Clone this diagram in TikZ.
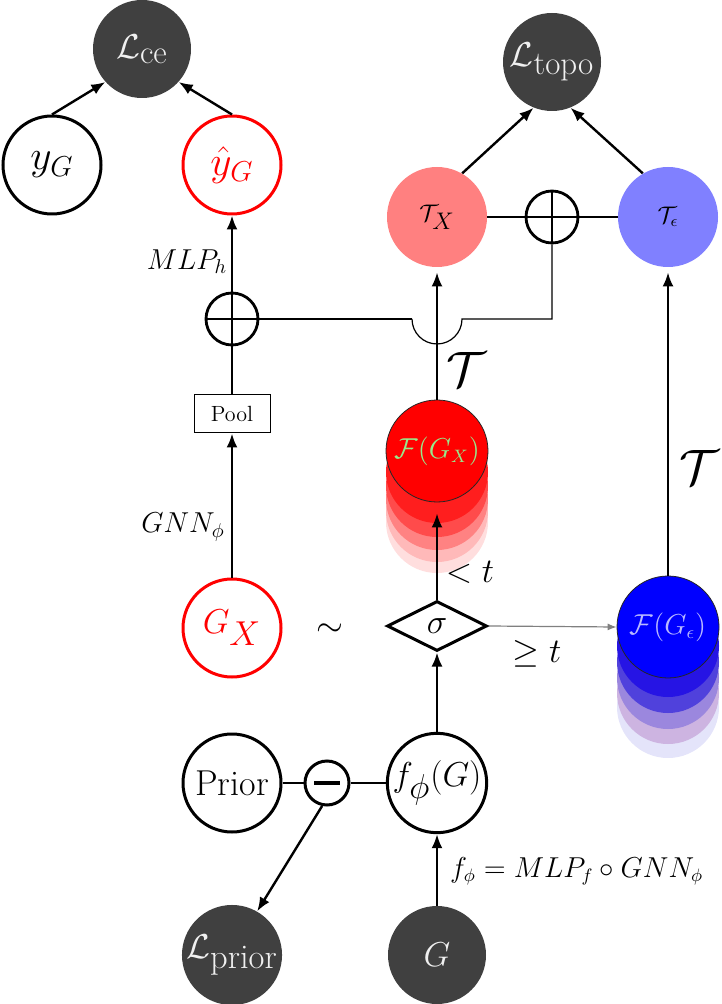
\documentclass[tikz,border=0pt]{standalone}
\usepackage{amsmath}
\usetikzlibrary{arrows.meta,shapes.geometric}
\definecolor{dark}{RGB}{64,64,64}
\definecolor{txc}{RGB}{255,128,128}
\definecolor{tec}{RGB}{128,128,255}
\definecolor{lgreen}{RGB}{150,235,140}
\definecolor{lblue}{RGB}{185,185,255}
\definecolor{ra}{RGB}{255,30,30}
\definecolor{rb}{RGB}{255,75,75}
\definecolor{rc}{RGB}{255,130,130}
\definecolor{rd}{RGB}{255,185,185}
\definecolor{re}{RGB}{255,222,222}
\definecolor{ba}{RGB}{38,20,228}
\definecolor{bb}{RGB}{80,65,220}
\definecolor{bc}{RGB}{155,135,222}
\definecolor{bd}{RGB}{205,180,225}
\definecolor{be}{RGB}{228,228,250}
\begin{document}
\begin{tikzpicture}[x=0.5pt,y=-0.5pt,
  darknode/.style={circle, fill=dark, text=white!94!black, minimum size=49pt, inner sep=0pt},
  ring/.style={circle, draw, line width=1.5pt, minimum size=49pt, inner sep=0pt},
  redring/.style={ring, draw=red, text=red},
  arr/.style={line width=1.2pt, -{Latex[length=7pt,width=5.5pt]}},
  ln/.style={line width=1.2pt},
  oplus/.style={circle, draw, line width=1.4pt, minimum size=26pt, inner sep=0pt,
    path picture={\draw[line width=1.4pt] (path picture bounding box.north) -- (path picture bounding box.south)
      (path picture bounding box.west) -- (path picture bounding box.east);}},
  minusnode/.style={circle, draw, line width=1.5pt, minimum size=22pt, inner sep=0pt,
    path picture={\draw[line width=1.9pt] ([xshift=-6.5pt]path picture bounding box.center) -- ([xshift=6.5pt]path picture bounding box.center);}},
  fillc/.style={circle, minimum size=50pt, inner sep=0pt},
  stackc/.style={circle, minimum size=51pt, inner sep=0pt, draw=black!85, line width=0.4pt}
]
\useasboundingbox (0,0) rectangle (721,1004);

% top left
\node[darknode, font=\fontsize{16.5}{18}\selectfont] (Lce) at (142,49) {$\mathcal{L}_{\mbox{ce}}$};
\node[ring, font=\huge] (yG) at (52,165) {$y_G$};
\node[redring, font=\huge] (yhat) at (232,165) {$\hat{y}_G$};
\draw[arr] (yG.north) -- (Lce.222);
\draw[arr] (yhat.north) -- (Lce.318);

% top right
\node[darknode, font=\fontsize{16.5}{18}\selectfont] (Ltopo) at (552,62) {$\mathcal{L}_{\mbox{topo}}$};
\node[fillc, fill=txc, font=\large] (TX) at (437,217) {$\mathcal{T}_{\mbox{$X$}}$};
\node[fillc, fill=tec, font=\large] (Te) at (668,217) {$\mathcal{T}_{\epsilon}$};
\node[oplus] (opT) at (552,217) {};
\draw[ln] (TX.east) -- (opT.west);
\draw[ln] (opT.east) -- (Te.west);
\draw[arr] (TX.60) -- (Ltopo.248);
\draw[arr] (Te.120) -- (Ltopo.292);

% left column
\node[oplus] (opL) at (232,319) {};
\node[draw, line width=0.5pt, minimum width=38pt, minimum height=19pt, inner sep=0pt, font=\fontsize{11}{13}\selectfont] (pool) at (232,414) {Pool};
\node[redring, font=\LARGE] (GX) at (232,628) {$G_{\mbox{$X$}}$};
\draw[arr] (opL.north) -- (yhat.south);
\draw[ln] (pool.north) -- (opL.south);
\draw[arr] (GX.north) -- (pool.south);
\node[font=\fontsize{14}{16}\selectfont] (mlp) at (187,262) {$MLP_h$};
\node[font=\fontsize{14}{16}\selectfont] (gnn) at (183,527) {$GNN_\phi$};

% crossing connector
\coordinate (arcL) at (412,319);
\coordinate (arcR) at (462,319);
\draw[line width=0.6pt] (opT.south) |- (arcR) arc (0:-180:12.5pt);
\draw[ln] (arcL) -- (opL.east);

% F(G_X) stack
\fill[re] (437,522) circle (25.5pt);
\fill[rd] (437,511) circle (25.5pt);
\fill[rc] (437,499) circle (25.5pt);
\fill[rb] (437,486) circle (25.5pt);
\fill[ra] (437,472) circle (25.5pt);
\node[stackc, fill=red, text=lgreen, font=\fontsize{13.5}{15}\selectfont] (FGX) at (437,451) {$\mathcal{F}(G_X)$};

% F(G_eps) stack
\fill[be] (668,707) circle (25.5pt);
\fill[bd] (668,693) circle (25.5pt);
\fill[bc] (668,678) circle (25.5pt);
\fill[bb] (668,662) circle (25.5pt);
\fill[ba] (668,646) circle (25.5pt);
\node[stackc, fill=blue, text=lblue, font=\fontsize{13.5}{15}\selectfont] (FGe) at (668,627) {$\mathcal{F}(G_\epsilon)$};

% sigma
\node[diamond, draw, line width=1.5pt, aspect=2, minimum width=50pt, minimum height=25pt, inner sep=0pt, font=\LARGE] (sig) at (437,626) {$\sigma$};
\node[font=\LARGE] (sim) at (330,630) {$\sim$};
\draw[arr] (sig.north) -- ([yshift=-5.5pt]FGX.south);
\draw[gray, line width=0.6pt, -{Latex[length=4.5pt,width=3.5pt]}] (sig.east) -- (FGe.west);
\node[font=\LARGE] (lt) at (470,572) {$<t$};
\node[font=\LARGE] (ge) at (537,654) {$\geq t$};
\draw[arr, shorten >=2.5pt] (FGX.north) -- (TX.south);
\draw[arr, shorten >=2.5pt] (FGe.north) -- (Te.south);
\node[font=\Huge] (t1) at (466,370) {$\mathcal{T}$};
\node[font=\Huge] (t2) at (699,467) {$\mathcal{T}$};

% bottom
\node[ring, font=\fontsize{18}{20}\selectfont] (prior) at (232,783) {Prior};
\node[minusnode] (minus) at (327,783) {};
\node[ring, font=\LARGE] (fG) at (437,783) {$f_{\mbox{$\phi$}}(G)$};
\draw[arr] (fG.north) -- (sig.south);
\draw[ln] (prior.east) -- (minus.west);
\draw[ln] (minus.east) -- (fG.west);
\node[darknode, font=\LARGE] (Lprior) at (232,955) {$\mathcal{L}_{\mbox{prior}}$};
\node[darknode, font=\LARGE] (G) at (437,955) {$G$};
\draw[arr] (minus.258) -- (Lprior.60);
\draw[arr] (G.north) -- (fG.south);
\node[anchor=west, font=\fontsize{13.5}{15}\selectfont] (flab) at (443,871) {$f_\phi = MLP_f \circ GNN_\phi$};
\end{tikzpicture}
\end{document}
